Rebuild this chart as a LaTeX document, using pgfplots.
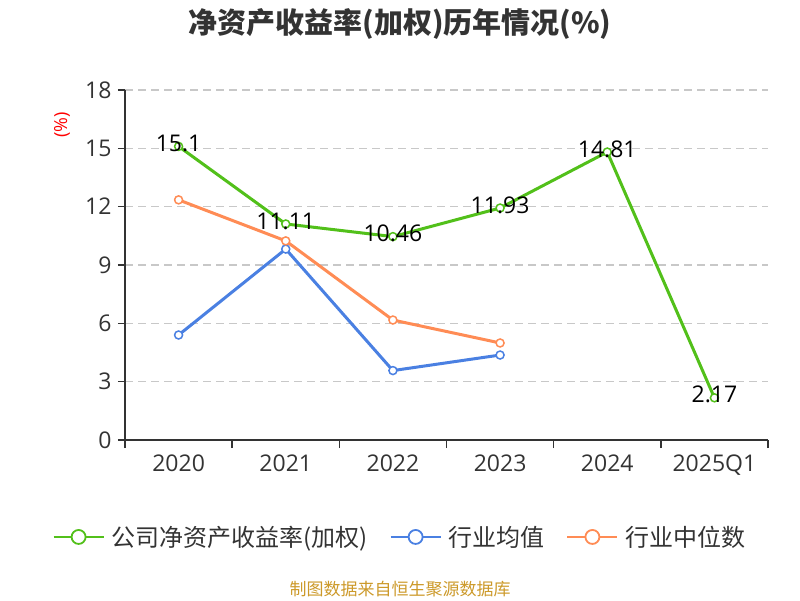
\documentclass[border=0pt]{standalone}
\usepackage{fontspec}
\usepackage{pgfplots}
\pgfplotsset{compat=1.18}
\setmainfont{Open Sans}
\newfontfamily\cjk{Noto Sans CJK SC}
\definecolor{cgreen}{RGB}{82,192,26}
\definecolor{cblue}{RGB}{74,128,226}
\definecolor{corange}{RGB}{255,140,85}
\definecolor{ctext}{RGB}{51,51,51}
\definecolor{cgrid}{RGB}{200,200,200}
\definecolor{csrc}{RGB}{204,153,41}
\begin{document}
\begin{tikzpicture}[x=1pt,y=1pt]
\path[use as bounding box] (0,0) rectangle (800,600);
\node[font=\cjk\bfseries\fontsize{29}{32}\selectfont, text=ctext] at (400,576) {净资产收益率(加权)历年情况(\%)};
\node[font=\fontsize{18}{20}\selectfont, text=red, rotate=90] at (62,475) {(\%)};
\node[font=\cjk\fontsize{17}{20}\selectfont, text=csrc] at (400,11) {制图数据来自恒生聚源数据库};
\begin{axis}[
 at={(125pt,160pt)}, anchor=south west,
 scale only axis, width=643pt, height=350pt,
 xmin=-0.5, xmax=5.5, ymin=0, ymax=18,
 axis x line=bottom, axis y line=left,
 axis line style={-, ctext, line width=1.5pt},
 xtick={0,...,5}, xticklabels={2020,2021,2022,2023,2024,2025Q1},
 major x tick style={draw=none},
 minor xtick={-0.5,0.5,...,5.5},
 minor x tick style={ctext, line width=1.5pt},
 ytick={0,3,...,18},
 y tick style={ctext, line width=1.5pt},
 tick align=outside, major tick length=7pt, minor tick length=8pt,
 ymajorgrids, y grid style={cgrid, dash pattern=on 8pt off 5pt, line width=1.3pt},
 tick label style={font=\fontsize{23}{26}\selectfont, text=ctext},
 /pgf/number format/assume math mode=true,
 yticklabel style={xshift=-3pt},
 xticklabel style={yshift=-4pt},
 legend columns=3,
 legend style={draw=none, fill=none, at={(axis description cs:0.4277,-0.277)}, anchor=center,
   font=\cjk\fontsize{24}{28}\selectfont, text=ctext,
   /tikz/every odd column/.append style={column sep=5pt},
   /tikz/every even column/.append style={column sep=20pt}},
 legend cell align=left,
 legend image code/.code={\draw[#1, line width=1.8pt] (0pt,0pt) -- (50pt,0pt); \draw[#1, fill=white, line width=1.8pt] (25pt,0pt) circle (7pt);},
 every axis plot/.append style={line width=3pt, mark=*, mark size=4pt, mark options={fill=white, line width=1.5pt}},
 clip=false,
]
\addplot[cgreen, nodes near coords, point meta=explicit symbolic,
  every node near coord/.append style={anchor=center, yshift=3pt, font=\fontsize{23}{26}\selectfont, text=black}]
  coordinates {(0,15.1)[15.1] (1,11.11)[11.11] (2,10.46)[10.46] (3,11.93)[11.93] (4,14.81)[14.81] (5,2.17)[2.17]};
\addlegendentry{公司净资产收益率(加权)}
\addplot[cblue] coordinates {(0,5.40) (1,9.82) (2,3.57) (3,4.37)};
\addlegendentry{行业均值}
\addplot[corange] coordinates {(0,12.35) (1,10.24) (2,6.17) (3,4.99)};
\addlegendentry{行业中位数}
\end{axis}
\end{tikzpicture}
\end{document}
